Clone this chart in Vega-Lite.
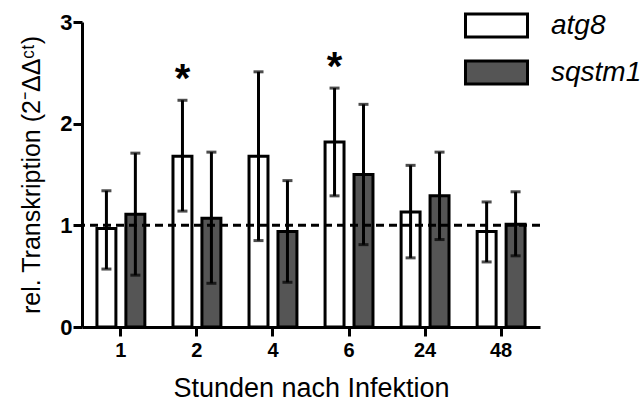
{
  "$schema": "https://vega.github.io/schema/vega-lite/v6.json",
  "width": 458,
  "height": 305,
  "autosize": "none",
  "padding": {"left": 82, "top": 22, "right": 103, "bottom": 78},
  "config": {
    "view": {"stroke": null},
    "font": "Liberation Sans",
    "axis": {"domainColor": "black", "tickColor": "black", "labelColor": "black", "titleColor": "black", "domainWidth": 3, "tickWidth": 3, "grid": false}
  },
  "data": {
    "values": [
      {"time": "1", "gene": "atg8", "mean": 0.97, "lower": 0.57, "upper": 1.34, "sig": ""},
      {"time": "1", "gene": "sqstm1", "mean": 1.11, "lower": 0.51, "upper": 1.71, "sig": ""},
      {"time": "2", "gene": "atg8", "mean": 1.68, "lower": 1.14, "upper": 2.23, "sig": "*"},
      {"time": "2", "gene": "sqstm1", "mean": 1.07, "lower": 0.43, "upper": 1.72, "sig": ""},
      {"time": "4", "gene": "atg8", "mean": 1.68, "lower": 0.85, "upper": 2.51, "sig": ""},
      {"time": "4", "gene": "sqstm1", "mean": 0.94, "lower": 0.44, "upper": 1.44, "sig": ""},
      {"time": "6", "gene": "atg8", "mean": 1.82, "lower": 1.29, "upper": 2.35, "sig": "*"},
      {"time": "6", "gene": "sqstm1", "mean": 1.5, "lower": 0.81, "upper": 2.19, "sig": ""},
      {"time": "24", "gene": "atg8", "mean": 1.13, "lower": 0.68, "upper": 1.59, "sig": ""},
      {"time": "24", "gene": "sqstm1", "mean": 1.29, "lower": 0.86, "upper": 1.72, "sig": ""},
      {"time": "48", "gene": "atg8", "mean": 0.94, "lower": 0.64, "upper": 1.23, "sig": ""},
      {"time": "48", "gene": "sqstm1", "mean": 1.01, "lower": 0.7, "upper": 1.33, "sig": ""}
    ]
  },
  "encoding": {
    "x": {
      "field": "time", "type": "nominal", "sort": ["1", "2", "4", "6", "24", "48"],
      "scale": {"paddingInner": 0.239, "paddingOuter": 0.131},
      "axis": {"title": "Stunden nach Infektion", "labelAngle": 0, "labelFontWeight": "bold", "labelFontSize": 20, "tickSize": 9, "labelPadding": 4, "titleFontSize": 27, "titleFontWeight": "normal", "titlePadding": 15}
    },
    "xOffset": {"field": "gene", "type": "nominal", "sort": ["atg8", "sqstm1"], "scale": {"paddingInner": 0.345, "paddingOuter": 0.172}}
  },
  "layer": [
    {
      "mark": {"type": "bar", "stroke": "black", "strokeWidth": 3},
      "encoding": {
        "y": {
          "field": "mean", "type": "quantitative",
          "scale": {"domain": [0, 3], "nice": false},
          "axis": {"values": [0, 1, 2, 3], "format": "d", "title": "rel. Transkription (2⁻ΔΔᶜᵗ)", "labelFontWeight": "bold", "labelFontSize": 22, "tickSize": 9, "labelPadding": 1, "titleFontSize": 25, "titleFontWeight": "normal", "titlePadding": 15}
        },
        "fill": {
          "field": "gene", "type": "nominal",
          "scale": {"domain": ["atg8", "sqstm1"], "range": ["white", "#555555"]},
          "legend": {
            "title": null, "orient": "none", "legendX": 400.5, "legendY": -10.5, "padding": 0,
            "symbolType": "M-2.48,-0.92H2.48V0.92H-2.48Z", "symbolSize": 625,
            "symbolStrokeColor": "black", "symbolStrokeWidth": 3,
            "labelFontSize": 28, "labelFontStyle": "italic", "labelOffset": 40.5, "labelColor": "black",
            "rowPadding": 11, "labelLimit": 200
          }
        }
      }
    },
    {
      "mark": {"type": "rule", "strokeWidth": 3, "color": "black"},
      "encoding": {"y": {"field": "lower", "type": "quantitative"}, "y2": {"field": "upper"}}
    },
    {
      "mark": {"type": "tick", "thickness": 3, "size": 10, "color": "black", "orient": "horizontal"},
      "encoding": {"y": {"field": "upper", "type": "quantitative"}}
    },
    {
      "mark": {"type": "tick", "thickness": 3, "size": 10, "color": "black", "orient": "horizontal"},
      "encoding": {"y": {"field": "lower", "type": "quantitative"}}
    },
    {
      "transform": [{"filter": "datum.sig != ''"}],
      "mark": {"type": "text", "fontSize": 40, "fontWeight": "bold", "baseline": "alphabetic", "dy": -8, "color": "black"},
      "encoding": {"y": {"field": "upper", "type": "quantitative"}, "text": {"field": "sig"}}
    },
    {
      "data": {"values": [{"ref": 1}]},
      "mark": {"type": "rule", "strokeWidth": 3, "strokeDash": [8, 5], "color": "black"},
      "encoding": {"y": {"field": "ref", "type": "quantitative"}, "x": null, "xOffset": null}
    }
  ]
}
